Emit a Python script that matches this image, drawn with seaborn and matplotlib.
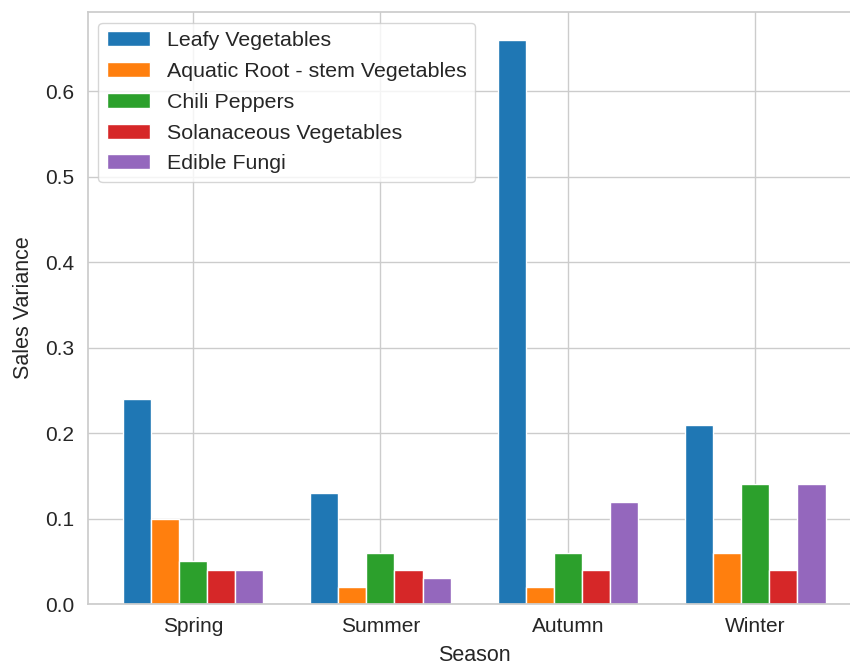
import matplotlib
matplotlib.use('Agg')
import matplotlib.pyplot as plt
import seaborn as sns
import pandas as pd

# Dati
seasons = ['Spring', 'Summer', 'Autumn', 'Winter']
categories = ['Leafy Vegetables', 'Aquatic Root - stem Vegetables', 'Chili Peppers',
              'Solanaceous Vegetables', 'Edible Fungi']
leafy = [0.24, 0.13, 0.66, 0.21]
aquatic = [0.10, 0.02, 0.02, 0.06]
chili = [0.05, 0.06, 0.06, 0.14]
solanaceous = [0.04, 0.04, 0.04, 0.04]
fungi = [0.04, 0.03, 0.12, 0.14]

values = [leafy, aquatic, chili, solanaceous, fungi]
rows = []
for cat, vals in zip(categories, values):
    for s, v in zip(seasons, vals):
        rows.append({'Season': s, 'Category': cat, 'Sales Variance': v})
df = pd.DataFrame(rows)

sns.set_theme(style='whitegrid')
plt.rcParams['font.family'] = ['Liberation Sans', 'DejaVu Sans']

fig = plt.figure(figsize=(8.5, 6.66), dpi=100)
ax = fig.add_axes([0.103, 0.093, 0.9096, 0.889])

sns.barplot(data=df, x='Season', y='Sales Variance', hue='Category',
            hue_order=categories, order=seasons, palette='tab10',
            saturation=1, width=0.75, errorbar=None,
            edgecolor='white', linewidth=1, ax=ax)

ax.set_xlim(-0.5625, 3.5625)
ax.set_ylim(0, 0.693)
ax.grid(True, axis='both')
ax.set_axisbelow(True)
ax.tick_params(axis='both', labelsize=15)
ax.set_xlabel('Season', fontsize=15.5, labelpad=6)
ax.set_ylabel('Sales Variance', fontsize=15.5, labelpad=8)
ax.legend(loc='upper left', fontsize=15.4, title=None, labelspacing=0.55)

fig.savefig('out.png', dpi=100)
